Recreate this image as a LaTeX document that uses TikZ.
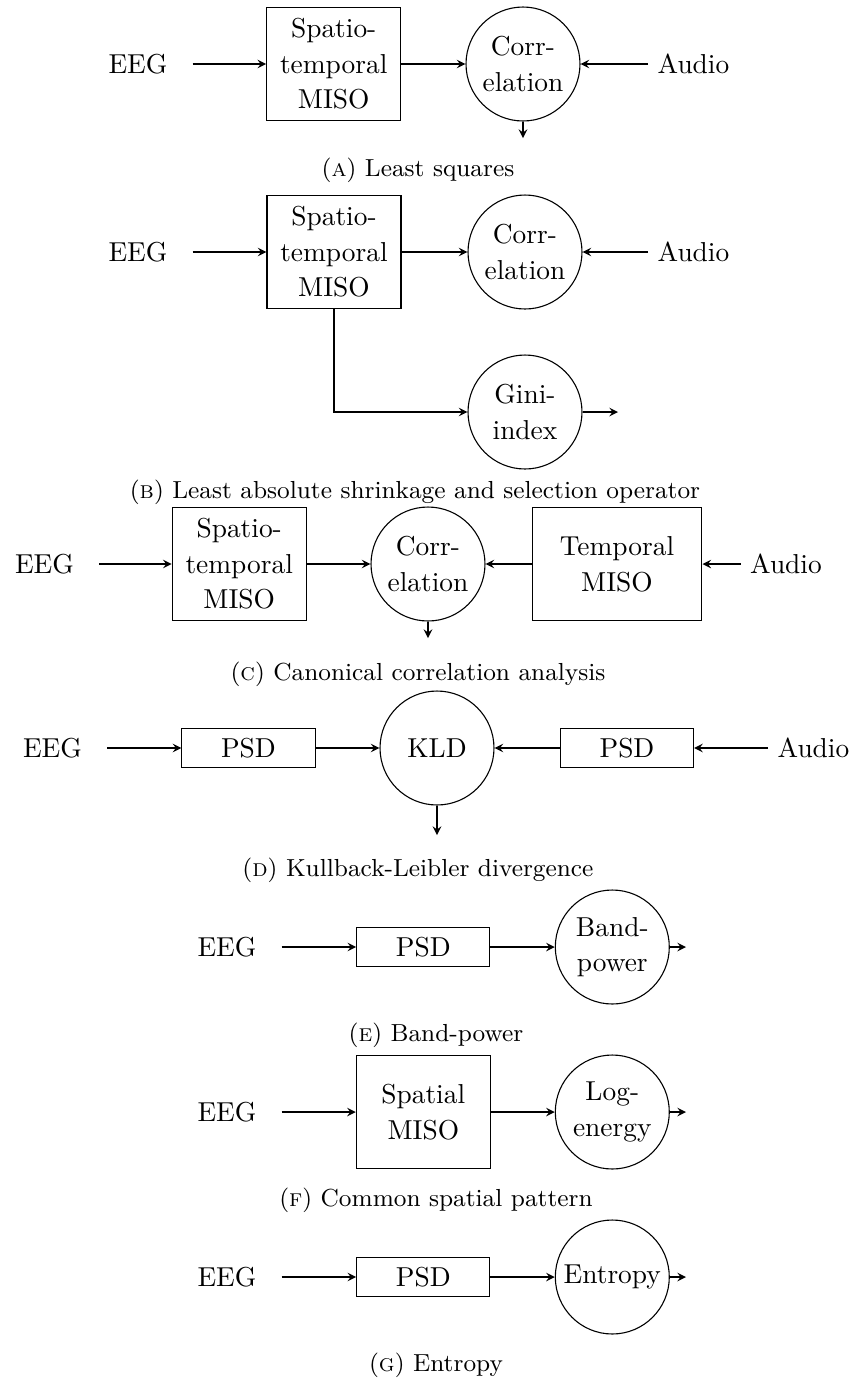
\documentclass[tikz,border=0pt]{standalone}
\usepackage{tikz}

\begin{document}
\begin{tikzpicture}[x=0.365pt, y=-0.365pt, >=stealth,
    every node/.append style={font=\fontsize{10pt}{13pt}\selectfont},
    block/.style={draw, rectangle, align=center, minimum width=48.9pt, minimum height=41.2pt},
    psdbox/.style={draw, rectangle, minimum width=48.6pt, minimum height=14.3pt},
    op/.style={draw, circle, align=center, minimum size=41.6pt, inner sep=0pt},
    src/.style={inner xsep=9pt},
    subcap/.style={font=\fontsize{9pt}{11pt}\selectfont}]

      \useasboundingbox (0,0) rectangle (856,1383);

      % (a) least squares
      \node[src] (eegA) at (138,64) {EEG};
      \node[block] (stA) at (333.7,64) {Spatio-\\temporal\\MISO};
      \node[op] (corA) at (523,64) {Corr-\\elation};
      \node (audA) at (693.5,64) {Audio};
      \coordinate (outA) at (523,138);
      \draw[->] (eegA) -- (stA);
      \draw[->] (stA) -- (corA);
      \draw[->] (audA) -- (corA);
      \draw[->] (corA) -- (outA);
      \node[subcap] (capA) at (418,170) {(\textsc{a}) Least squares};

      % (b) lasso
      \node[src] (eegB) at (138,252) {EEG};
      \node[block] (stB) at (334,252) {Spatio-\\temporal\\MISO};
      \node[op] (corB) at (525,252) {Corr-\\elation};
      \node (audB) at (693.5,252) {Audio};
      \node[op] (giniB) at (525,412) {Gini-\\index};
      \coordinate (outB) at (618,412);
      \draw[->] (eegB) -- (stB);
      \draw[->] (stB) -- (corB);
      \draw[->] (audB) -- (corB);
      \draw[->] (stB.south) |- (giniB);
      \draw[->] (giniB) -- (outB);
      \node[subcap] (capB) at (415,492) {(\textsc{b}) Least absolute shrinkage and selection operator};

      % (c) cca
      \node[src] (eegC) at (44.5,564) {EEG};
      \node[block] (stC) at (239.2,564) {Spatio-\\temporal\\MISO};
      \node[op] (corC) at (428,564) {Corr-\\elation};
      \node[block, minimum width=62pt] (tmC) at (617,564) {Temporal\\MISO};
      \node (audC) at (786,564) {Audio};
      \coordinate (outC) at (428,638);
      \draw[->] (eegC) -- (stC);
      \draw[->] (stC) -- (corC);
      \draw[->] (tmC) -- (corC);
      \draw[->] (audC) -- (tmC);
      \draw[->] (corC) -- (outC);
      \node[subcap] (capC) at (418,674) {(\textsc{c}) Canonical correlation analysis};

      % (d) kld
      \node[src] (eegD) at (52.5,748) {EEG};
      \node[psdbox] (psdD) at (248.5,748) {PSD};
      \node[op] (kldD) at (437,748) {KLD};
      \node[psdbox] (psdDa) at (627,748) {PSD};
      \node (audD) at (813.5,748) {Audio};
      \coordinate (outD) at (437,835);
      \draw[->] (eegD) -- (psdD);
      \draw[->] (psdD) -- (kldD);
      \draw[->] (psdDa) -- (kldD);
      \draw[->] (audD) -- (psdDa);
      \draw[->] (kldD) -- (outD);
      \node[subcap] (capD) at (418,870) {(\textsc{d}) Kullback-Leibler divergence};

      % (e) band-power
      \node[src] (eegE) at (227,947) {EEG};
      \node[psdbox] (psdE) at (423.3,947) {PSD};
      \node[op] (bpE) at (612.3,947) {Band-\\power};
      \coordinate (outE) at (686,947);
      \draw[->] (eegE) -- (psdE);
      \draw[->] (psdE) -- (bpE);
      \draw[->] (bpE) -- (outE);
      \node[subcap] (capE) at (436,1035) {(\textsc{e}) Band-power};

      % (f) csp
      \node[src] (eegF) at (227,1112) {EEG};
      \node[block] (smF) at (423.3,1112) {Spatial\\MISO};
      \node[op] (leF) at (612.3,1112) {Log-\\energy};
      \coordinate (outF) at (686,1112);
      \draw[->] (eegF) -- (smF);
      \draw[->] (smF) -- (leF);
      \draw[->] (leF) -- (outF);
      \node[subcap] (capF) at (436,1200) {(\textsc{f}) Common spatial pattern};

      % (g) entropy
      \node[src] (eegG) at (227,1277) {EEG};
      \node[psdbox] (psdG) at (423.3,1277) {PSD};
      \node[op] (entG) at (612.3,1277) {Entropy};
      \coordinate (outG) at (686,1277);
      \draw[->] (eegG) -- (psdG);
      \draw[->] (psdG) -- (entG);
      \draw[->] (entG) -- (outG);
      \node[subcap] (capG) at (436,1365) {(\textsc{g}) Entropy};

\end{tikzpicture}
\end{document}
